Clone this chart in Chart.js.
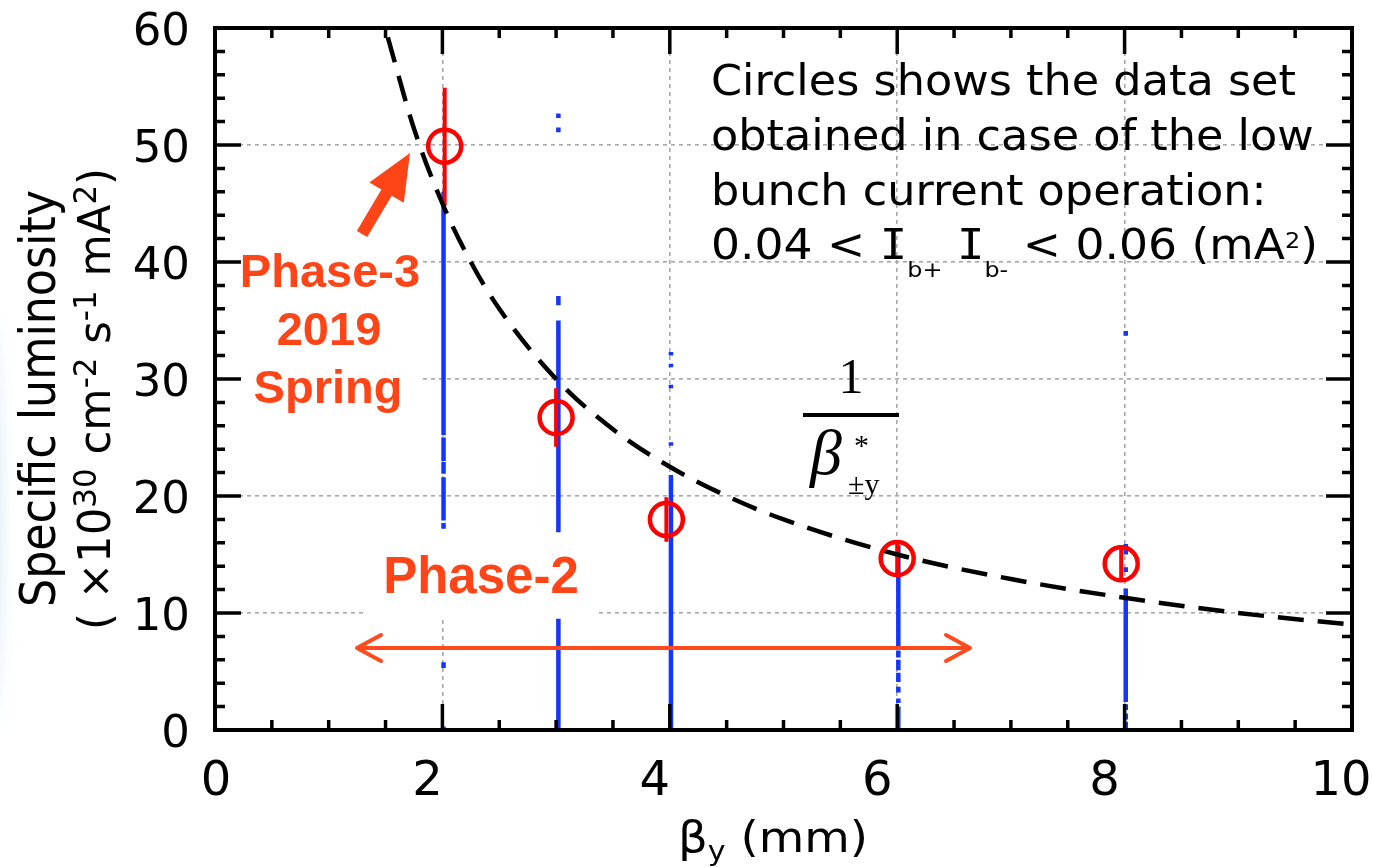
<!DOCTYPE html>
<html><head><meta charset="utf-8">
<script src="https://cdn.jsdelivr.net/npm/chart.js@4.4.1/dist/chart.umd.min.js"></script>
<style>html,body{margin:0;padding:0;background:#fff;overflow:hidden}#wrap{width:1373px;height:867px;position:relative}</style>
</head><body><div id="wrap"><canvas id="c" width="1373" height="867"></canvas></div>
<script>
// ---- data ----
const xTickLabels = ['0','2','4','6','8','10'];
const yTickLabels = ['0','10','20','30','40','50','60'];
// dashed 1/beta guide curve
const curveX = [1.52, 1.75, 2.0, 2.25, 2.5, 3.0, 3.5, 4.0, 4.5, 5.0, 6.0, 7.0, 8.0, 9.0, 10.0];
const curveY = [59.2, 51.4, 45.0, 40.0, 36.0, 30.0, 25.7, 22.5, 20.0, 18.0, 15.0, 12.9, 11.3, 10.0, 9.0];
// red circles (low bunch current data) with error bars
const circleX = [2.02, 3.0, 3.97, 6.0, 7.97];
const circleY = [49.9, 26.7, 18.0, 14.65, 14.2];
const redLow  = [44.8, 24.2, 16.1, 13.1, 12.7];
const redHigh = [54.9, 29.2, 19.9, 16.1, 15.8];
// blue Phase-2 data (vertical streaks of overlapping points / error bars)
const blueX = [0.0, 2.01, 3.02, 4.01, 6.01, 8.01];
const blueRanges = [
  [[0, 0.3]],
  [[0, 0.3], [5.3, 5.8], [17.2, 17.7], [17.9, 21.6], [21.9, 22.9], [23.0, 25.0], [25.2, 46.0]],
  [[0, 9.5], [16.9, 35.0], [36.3, 37.1], [51.1, 51.5], [52.3, 52.7]],
  [[0, 21.8], [24.3, 24.6], [29.2, 29.5], [31.0, 31.3], [32.0, 32.3]],
  [[0, 2.0], [2.3, 2.7], [3.2, 3.7], [4.1, 4.9], [5.1, 6.0], [6.2, 6.8], [7.1, 15.8]],
  [[0, 0.7], [0.9, 1.4], [1.7, 2.2], [2.4, 12.1], [13.5, 13.9], [15.0, 15.9], [33.7, 34.1]]
];
const noteLines = ['Circles shows the data set', 'obtained in case of the low', 'bunch current operation:'];

// ---- build library data ----
const blueData = [];
blueX.forEach((x, i) => blueRanges[i].forEach(r => { blueData.push({x, y: r[0]}, {x, y: r[1]}, {x, y: null}); }));
const redData = [];
circleX.forEach((x, i) => { redData.push({x, y: redLow[i]}, {x, y: redHigh[i]}, {x, y: null}); });
const curveData = curveX.map((x, i) => ({x, y: curveY[i]}));
const circleData = circleX.map((x, i) => ({x, y: circleY[i]}));

const RED_TXT = '#ff4517';
const xLabelNudge = [1, -15, -15, -20, -20, -11];

function runsWidth(ctx, runs) { let w = 0; runs.forEach(r => { ctx.font = r.f; w += ctx.measureText(r.t).width; }); return w; }
function drawRuns(ctx, runs, x, y, sx) {
  ctx.save(); ctx.translate(x, y); ctx.scale(sx, 1);
  let cx = 0;
  runs.forEach(r => { ctx.font = r.f; ctx.fillText(r.t, cx, r.dy || 0); cx += ctx.measureText(r.t).width; });
  ctx.restore();
}

const deco = {
  id: 'deco',
  beforeDraw(chart) {
    const ctx = chart.ctx;
    ctx.save();
    const g = ctx.createLinearGradient(0, 0, 18, 0);
    g.addColorStop(0, 'rgb(228,240,249)'); g.addColorStop(1, 'rgba(255,255,255,0)');
    ctx.fillStyle = g;
    for (let k = 0; k < 40; k++) {
      ctx.globalAlpha = Math.sin(Math.PI * (k + 0.5) / 40) * 0.8;
      ctx.fillRect(0, 300 + k * 11, 18, 11);
    }
    ctx.restore();
  },
  beforeDatasetsDraw(chart) {
    const ctx = chart.ctx;
    ctx.save(); ctx.fillStyle = '#fff';
    ctx.fillRect(217, 235, 205, 190);
    ctx.fillRect(367, 531, 231, 87);
    ctx.restore();
  },
  afterDraw(chart) {
    const ctx = chart.ctx, a = chart.chartArea, xs = chart.scales.x, ys = chart.scales.y;
    ctx.save();
    // frame
    ctx.strokeStyle = '#000'; ctx.lineWidth = 4;
    ctx.strokeRect(a.left, a.top, a.right - a.left, a.bottom - a.top);
    // inward ticks
    ctx.lineWidth = 3.5; ctx.beginPath();
    for (let v = xs.min; v <= xs.max + 1e-9; v += 0.5) {
      const p = xs.getPixelForValue(v);
      const major = Math.abs(v % 2) < 1e-9;
      const L = major ? 26 : 10;
      ctx.moveTo(p, a.bottom); ctx.lineTo(p, a.bottom - L);
      ctx.moveTo(p, a.top); ctx.lineTo(p, a.top + L);
    }
    for (let v = ys.min; v <= ys.max + 1e-9; v += 2) {
      const p = ys.getPixelForValue(v);
      const major = Math.abs(v % 10) < 1e-9;
      const L = major ? 26 : 10;
      ctx.moveTo(a.left, p); ctx.lineTo(a.left + L, p);
      ctx.moveTo(a.right, p); ctx.lineTo(a.right - L, p);
    }
    ctx.stroke();
    // tick labels
    ctx.fillStyle = '#000'; ctx.textBaseline = 'alphabetic';
    ctx.font = '45px "DejaVu Sans"'; ctx.textAlign = 'right';
    ys.ticks.forEach((t, i) => { ctx.fillText(yTickLabels[i], 190, ys.getPixelForValue(t.value) + 16.5); });
    ctx.font = '48px "DejaVu Sans"'; ctx.textAlign = 'center';
    xs.ticks.forEach((t, i) => { ctx.fillText(xTickLabels[i], xs.getPixelForValue(t.value) + xLabelNudge[i], 795); });
    // x title
    ctx.textAlign = 'left';
    const xt = [{t: 'β', f: '42px "DejaVu Sans"'}, {t: 'y', f: '27px "DejaVu Sans"', dy: 8}, {t: ' (mm)', f: '42px "DejaVu Sans"'}];
    drawRuns(ctx, xt, 678, 852, 190 / runsWidth(ctx, xt));
    // y title (rotated)
    const CF = '"DejaVu Sans Condensed", "DejaVu Sans"';
    const y1 = [{t: 'Specific luminosity', f: '50px ' + CF}];
    const y2 = [
      {t: '( ×10', f: '45px ' + CF}, {t: '30', f: '32px ' + CF, dy: -14},
      {t: ' cm', f: '45px ' + CF}, {t: '-2', f: '32px ' + CF, dy: -14},
      {t: ' s', f: '45px ' + CF}, {t: '-1', f: '32px ' + CF, dy: -14},
      {t: ' mA', f: '45px ' + CF}, {t: '2', f: '32px ' + CF, dy: -14},
      {t: ')', f: '45px ' + CF}];
    [[y1, 55, 398.5, 417], [y2, 110, 399, 462]].forEach(([runs, bx, cy, len]) => {
      ctx.save(); ctx.translate(bx, cy); ctx.rotate(-Math.PI / 2);
      drawRuns(ctx, runs, -len / 2, 0, len / runsWidth(ctx, runs));
      ctx.restore();
    });
    // note text
    const nf = '42px "DejaVu Sans"';
    const mf = '42px "DejaVu Sans Mono"';
    ctx.font = nf;
    const nsx = 585 / ctx.measureText(noteLines[0]).width;
    [95, 150, 205].forEach((by, i) => drawRuns(ctx, [{t: noteLines[i], f: nf}], 711, by, nsx));
    const l4 = [{t: '0.04 < ', f: nf}, {t: 'I', f: mf}, {t: 'b+', f: '22px "DejaVu Sans"', dy: 18}, {t: ' ', f: nf}, {t: 'I', f: mf},
      {t: 'b-', f: '22px "DejaVu Sans"', dy: 18},
      {t: ' < 0.06 (mA', f: nf}, {t: '2', f: '22px "DejaVu Sans"', dy: -11}, {t: ')', f: nf}];
    drawRuns(ctx, l4, 711, 259, 607 / runsWidth(ctx, l4));
    // formula 1/beta
    ctx.textAlign = 'center';
    ctx.font = '50px "Liberation Serif"'; ctx.fillText('1', 851, 393);
    ctx.fillRect(803, 413, 96, 4);
    ctx.textAlign = 'left';
    ctx.font = 'italic 64px "Liberation Serif"'; ctx.fillText('β', 810, 474);
    ctx.font = '30px "Liberation Serif"'; ctx.fillText('*', 854, 455);
    ctx.font = '30px "Liberation Serif"'; ctx.fillText('±y', 848, 494);
    // red annotations
    ctx.fillStyle = RED_TXT; ctx.textAlign = 'center';
    ctx.font = 'bold 47px "Liberation Sans"';
    ctx.fillText('Phase-3', 330, 287); ctx.fillText('2019', 329, 345); ctx.fillText('Spring', 328, 403);
    ctx.font = 'bold 51px "Liberation Sans"';
    ctx.fillText('Phase-2', 481, 593);
    // pointer arrow
    const tx = 362, ty = 234, hx = 410, hy = 153;
    const L = Math.hypot(hx - tx, hy - ty), ux = (hx - tx) / L, uy = (hy - ty) / L, nx = -uy, ny = ux;
    const bx = hx - ux * 46, by = hy - uy * 46;
    ctx.beginPath();
    ctx.moveTo(tx + nx * 6, ty + ny * 6); ctx.lineTo(bx + nx * 6, by + ny * 6); ctx.lineTo(bx + nx * 20, by + ny * 20);
    ctx.lineTo(hx, hy);
    ctx.lineTo(bx - nx * 20, by - ny * 20); ctx.lineTo(bx - nx * 6, by - ny * 6); ctx.lineTo(tx - nx * 6, ty - ny * 6);
    ctx.closePath(); ctx.fill();
    // double arrow
    ctx.strokeStyle = '#ff4a1e'; ctx.lineWidth = 4; ctx.lineCap = 'round'; ctx.lineJoin = 'round';
    ctx.beginPath();
    ctx.moveTo(357, 648); ctx.lineTo(970, 648);
    ctx.moveTo(946, 635); ctx.lineTo(970, 648); ctx.lineTo(946, 661);
    ctx.moveTo(381, 635); ctx.lineTo(357, 648); ctx.lineTo(381, 661);
    ctx.stroke();
    ctx.restore();
  }
};

new Chart(document.getElementById('c'), {
  type: 'line',
  data: {
    datasets: [
      {data: circleData, showLine: false, pointRadius: 16.5, pointBorderWidth: 4.5, pointBorderColor: '#ff0000',
       pointBackgroundColor: 'rgba(0,0,0,0)', borderColor: '#ff0000', order: 0},
      {data: curveData, borderColor: '#000', borderWidth: 4.5, borderDash: [26, 14], pointRadius: 0,
       cubicInterpolationMode: 'monotone', fill: false, order: 1},
      {data: redData, borderColor: '#ff0000', borderWidth: 4, pointRadius: 0, spanGaps: false, fill: false, order: 2, borderCapStyle: 'butt'},
      {data: blueData, borderColor: '#1435ff', borderWidth: 4.5, pointRadius: 0, spanGaps: false, fill: false, order: 3, borderCapStyle: 'butt'}
    ]
  },
  options: {
    responsive: false, animation: false, events: [],
    layout: {padding: {left: 0, right: 21, top: 28, bottom: 0}},
    plugins: {legend: {display: false}, tooltip: {enabled: false}},
    scales: {
      x: {type: 'linear', min: 0, max: 10,
          ticks: {display: false, stepSize: 2, callback: (v, i) => xTickLabels[i]},
          grid: {drawTicks: false, lineWidth: 1.6, color: c => (c.tick && c.tick.value > 0 && c.tick.value < 10) ? '#a8a8a8' : 'rgba(0,0,0,0)'},
          border: {display: false, dash: [4, 4]},
          afterFit: s => { s.height = 137; }},
      y: {type: 'linear', min: 0, max: 60,
          ticks: {display: false, stepSize: 10, callback: (v, i) => yTickLabels[i]},
          grid: {drawTicks: false, lineWidth: 1.6, color: c => (c.tick && c.tick.value > 0 && c.tick.value < 60) ? '#a8a8a8' : 'rgba(0,0,0,0)'},
          border: {display: false, dash: [4, 4]},
          afterFit: s => { s.width = 215; }}
    }
  },
  plugins: [deco]
});
</script></body></html>
